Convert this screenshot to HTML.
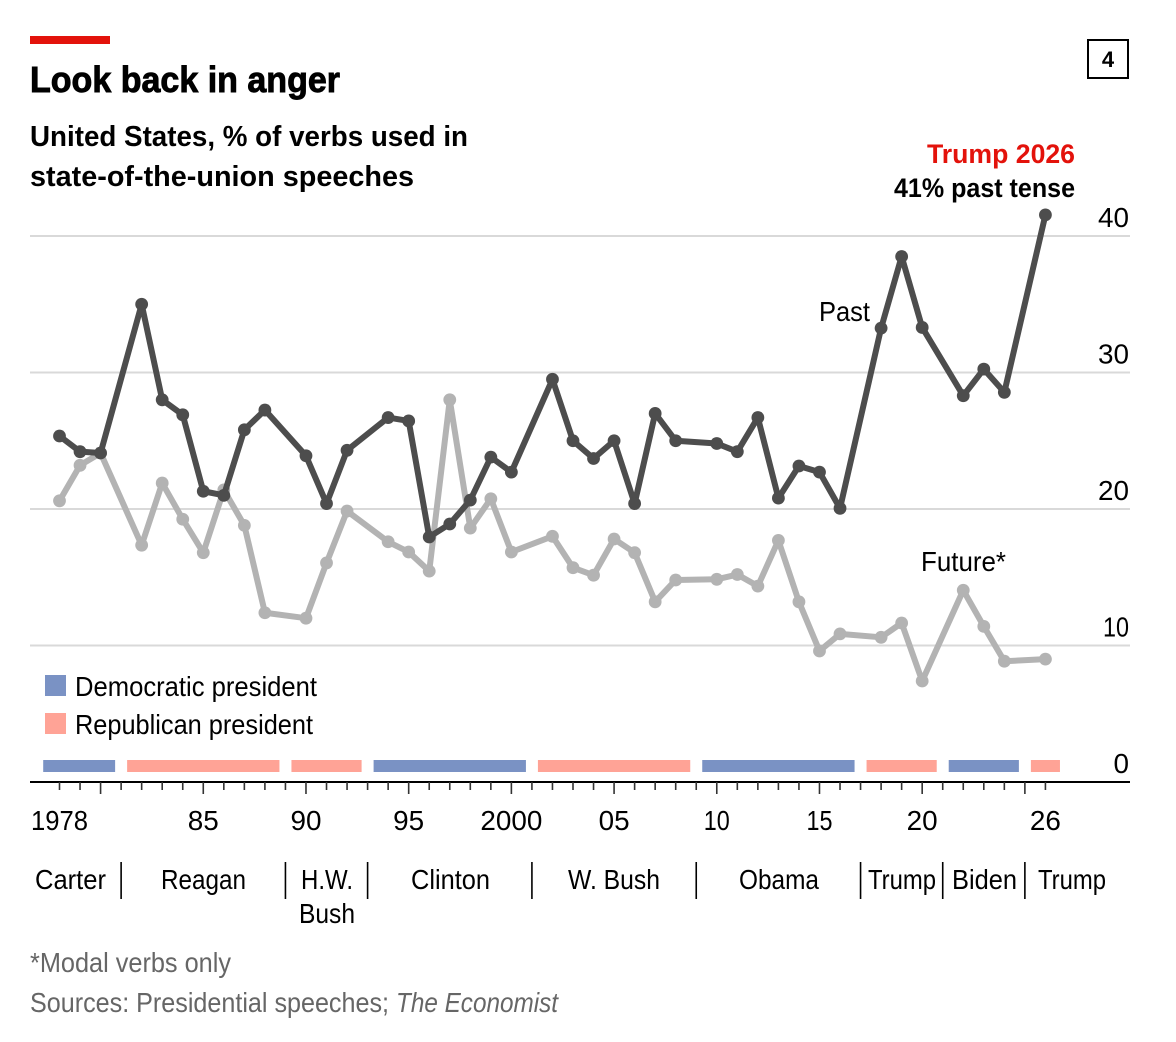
<!DOCTYPE html>
<html lang="en">
<head>
<meta charset="utf-8">
<title>Look back in anger</title>
<style>
html,body{margin:0;padding:0;background:#fff;}
svg{display:block;}
text{font-family:"Liberation Sans",Arial,sans-serif;fill:#000;}
.b{font-weight:700;}
.r{font-size:28px;}
.g{font-size:28px;fill:#666;}
</style>
</head>
<body>
<svg id="chart" xmlns="http://www.w3.org/2000/svg" width="1176" height="1042" viewBox="0 0 1176 1042">
  <rect x="0" y="0" width="1176" height="1042" fill="#fff"/>
  <rect x="30" y="36" width="80" height="8" fill="#e3120b"/>
  <text class="b" x="30" y="92" font-size="36" textLength="310" lengthAdjust="spacingAndGlyphs" stroke="#000" stroke-width="0.9">Look back in anger</text>
  <text class="b" x="30" y="146" font-size="29" textLength="438" lengthAdjust="spacingAndGlyphs">United States, % of verbs used in</text>
  <text class="b" x="30" y="186" font-size="29" textLength="384" lengthAdjust="spacingAndGlyphs">state-of-the-union speeches</text>
  <rect x="1088" y="40" width="40" height="38" fill="#fff" stroke="#000" stroke-width="2"/>
  <text class="b" x="1108" y="67" font-size="22" text-anchor="middle">4</text>

  <g id="grid"></g>
  <g id="bars"></g>
  <g id="axis"></g>
  <g id="future"></g>
  <g id="past"></g>

  <text class="b" x="1075" y="163" font-size="27" text-anchor="end" textLength="148" lengthAdjust="spacingAndGlyphs" style="fill:#e3120b">Trump 2026</text>
  <text class="b" x="1075" y="197" font-size="27" text-anchor="end" textLength="181" lengthAdjust="spacingAndGlyphs">41% past tense</text>
  <text class="r" x="819" y="321" textLength="51" lengthAdjust="spacingAndGlyphs">Past</text>
  <text class="r" x="921" y="571" textLength="85" lengthAdjust="spacingAndGlyphs">Future*</text>

  <rect x="45" y="675" width="21" height="21" fill="#7a92c4"/>
  <text class="r" x="75" y="696" textLength="242" lengthAdjust="spacingAndGlyphs">Democratic president</text>
  <rect x="45" y="713" width="21" height="21" fill="#ffa396"/>
  <text class="r" x="75" y="734" textLength="238" lengthAdjust="spacingAndGlyphs">Republican president</text>

  <g>
    <text class="r" x="35" y="889" textLength="71" lengthAdjust="spacingAndGlyphs">Carter</text>
    <text class="r" x="161" y="889" textLength="85" lengthAdjust="spacingAndGlyphs">Reagan</text>
    <text class="r" x="301" y="889" textLength="52" lengthAdjust="spacingAndGlyphs">H.W.</text>
    <text class="r" x="299" y="923" textLength="56" lengthAdjust="spacingAndGlyphs">Bush</text>
    <text class="r" x="411" y="889" textLength="79" lengthAdjust="spacingAndGlyphs">Clinton</text>
    <text class="r" x="568" y="889" textLength="92" lengthAdjust="spacingAndGlyphs">W. Bush</text>
    <text class="r" x="739" y="889" textLength="80" lengthAdjust="spacingAndGlyphs">Obama</text>
    <text class="r" x="868" y="889" textLength="68" lengthAdjust="spacingAndGlyphs">Trump</text>
    <text class="r" x="952" y="889" textLength="65" lengthAdjust="spacingAndGlyphs">Biden</text>
    <text class="r" x="1038" y="889" textLength="68" lengthAdjust="spacingAndGlyphs">Trump</text>
  </g>

  <text class="g" x="30" y="972" textLength="201" lengthAdjust="spacingAndGlyphs">*Modal verbs only</text>
  <text class="g" x="30" y="1012" textLength="359" lengthAdjust="spacingAndGlyphs">Sources: Presidential speeches;</text>
  <text class="g" x="396" y="1012" font-style="italic" textLength="162" lengthAdjust="spacingAndGlyphs">The Economist</text>
</svg>
<script>
const years = [1978,1979,1980,1982,1983,1984,1985,1986,1987,1988,1990,1991,1992,1994,1995,1996,1997,1998,1999,2000,2002,2003,2004,2005,2006,2007,2008,2010,2011,2012,2013,2014,2015,2016,2018,2019,2020,2022,2023,2024,2026];
const pastValues = [25.35,24.2,24.1,35.0,28.0,26.9,21.3,21.0,25.8,27.25,23.9,20.4,24.3,26.7,26.45,17.95,18.9,20.65,23.8,22.7,29.5,25.0,23.7,25.0,20.4,27.0,25.0,24.8,24.2,26.7,20.8,23.15,22.7,20.05,33.25,38.5,33.3,28.3,30.25,28.55,41.55];
const futureValues = [20.6,23.2,24.1,17.35,21.9,19.25,16.8,21.4,18.8,12.4,12.0,16.05,19.85,17.6,16.85,15.45,28.0,18.6,20.75,16.85,18.0,15.7,15.15,17.8,16.8,13.2,14.8,14.85,15.2,14.35,17.7,13.2,9.6,10.85,10.6,11.65,7.4,14.05,11.4,8.85,9.0];
const yTicks = [0,10,20,30,40];
const xTickYears = [1978,1985,1990,1995,2000,2005,2010,2015,2020,2026];
const xTickLabels = ["1978","85","90","95","2000","05","10","15","20","26"];
const termParties = ["D","R","R","D","R","D","R","D","R"];
const termStarts = [1977,1981,1989,1993,2001,2009,2017,2021,2025];
const termEnds = [1981,1989,1993,2001,2009,2017,2021,2025,2027];
const firstTickYear = 1978;
const lastTickYear = 2026;

const NS = "http://www.w3.org/2000/svg";
const xScale = function (yr) { return 59.5 + (yr - 1978) * 20.54; };
const yScale = function (v) { return 782 - v * 13.65; };
function make(tag, parent, attrs) {
  const el = document.createElementNS(NS, tag);
  for (const k in attrs) el.setAttribute(k, attrs[k]);
  parent.appendChild(el);
  return el;
}
// The reference numerals have a narrow "1"; fit each label to that width.
function numeralWidth(str) {
  let w = 0;
  for (const c of str) w += c === "1" ? 10.5 : 15.5;
  return w;
}

const grid = document.getElementById("grid");
yTicks.forEach(function (v) {
  if (v > 0) {
    const line = make("line", grid, {x1: 30, x2: 1130, y1: yScale(v), y2: yScale(v), stroke: "#d9d9d9", "stroke-width": 2});
    
    
  }
  const label = make("text", grid, {x: 1129, y: v === 0 ? 773 : yScale(v) - 9, "text-anchor": "end", "font-size": 28, textLength: numeralWidth(String(v)), lengthAdjust: "spacingAndGlyphs"});
  
  
  label.textContent = String(v);
});

const bars = document.getElementById("bars");
termParties.forEach(function (party, i) {
  const x0 = i === 0 ? 43.2 : xScale(termStarts[i]) + 6;
  const x1 = xScale(termEnds[i]) - 6;
  const bar = make("rect", bars, {x: x0, y: 760, width: x1 - x0, height: 12, fill: party === "D" ? "#7a92c4" : "#ffa396"});
  
  
});

const axis = document.getElementById("axis");
const baseline = make("line", axis, {x1: 30, x2: 1130, y1: 782, y2: 782, stroke: "#000", "stroke-width": 2});


for (let yr = firstTickYear; yr <= lastTickYear; yr++) {
  const major = yr % 5 === 0;
  const tick = make("line", axis, {x1: xScale(yr), x2: xScale(yr), y1: 782, y2: major ? 794 : 790, stroke: "#333", "stroke-width": 1.6});
  
  
}
xTickYears.forEach(function (yr, i) {
  const label = make("text", axis, {x: xScale(yr), y: 830, "text-anchor": "middle", "font-size": 28, textLength: numeralWidth(xTickLabels[i]), lengthAdjust: "spacingAndGlyphs"});
  
  
  label.textContent = xTickLabels[i];
});
termStarts.slice(1).forEach(function (yr) {
  const div = make("line", axis, {x1: xScale(yr), x2: xScale(yr), y1: 862, y2: 899, stroke: "#000", "stroke-width": 1.6});
  
  
});

function drawSeries(groupId, values, colour) {
  const g = document.getElementById(groupId);
  const pts = values.map(function (v, i) { return xScale(years[i]).toFixed(2) + "," + yScale(v).toFixed(2); }).join(" ");
  const line = make("polyline", g, {points: pts, fill: "none", stroke: colour, "stroke-width": 6, "stroke-linejoin": "round", "stroke-linecap": "round"});
  
  
  values.forEach(function (v, i) {
    const dot = make("circle", g, {cx: xScale(years[i]), cy: yScale(v), r: 6.4, fill: colour});
    
    
  });
}
drawSeries("future", futureValues, "#b3b3b3");
drawSeries("past", pastValues, "#4d4d4d");
</script>
</body>
</html>
